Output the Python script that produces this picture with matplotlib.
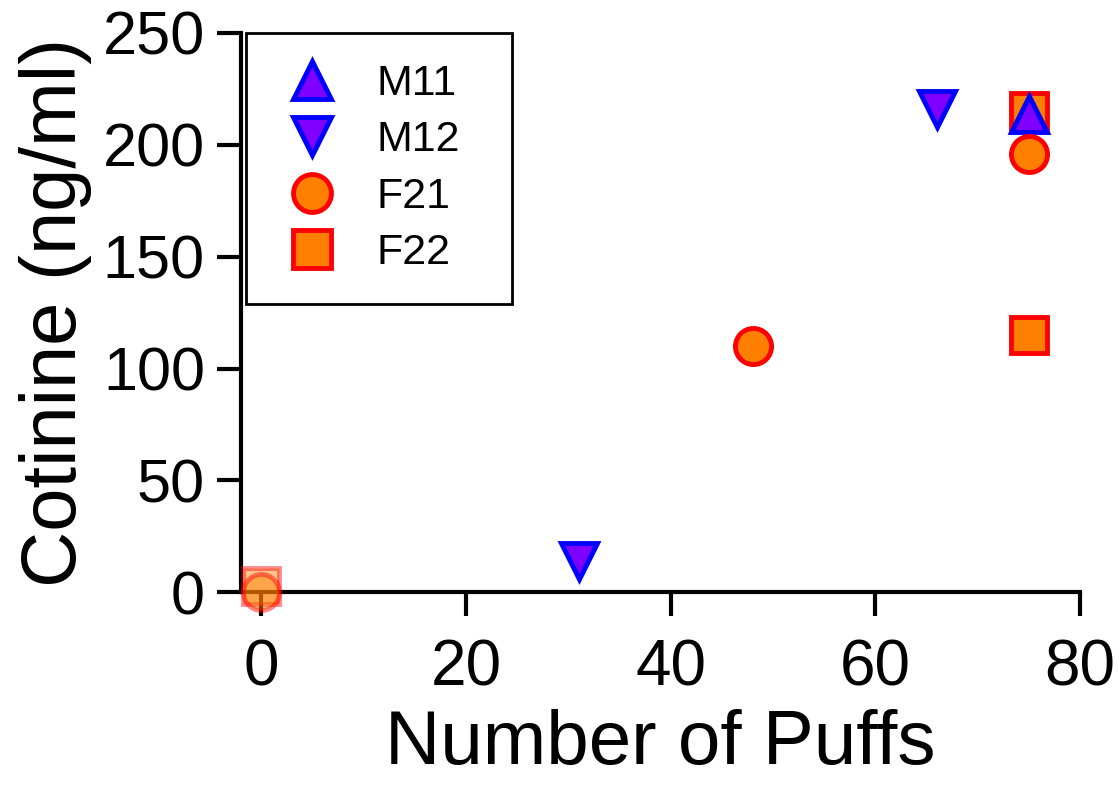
import matplotlib
matplotlib.use("Agg")
import matplotlib.pyplot as plt

plt.rcParams['font.family'] = ['Liberation Sans', 'DejaVu Sans']

# Datos
m11_x = [75]
m11_y = [214]
m12_x = [31, 66]
m12_y = [14, 216]
f21_x = [48, 75]
f21_y = [110, 196]
f22_x = [75, 75]
f22_y = [215, 115]
# puntos en cero (dibujados semitransparentes)
f21_cero_x = [0]
f21_cero_y = [0]
f22_cero_x = [0]
f22_cero_y = [3]

azul, morado = '#0000FF', '#8000FF'
rojo, naranja = '#FF0000', '#FF8000'

fig = plt.figure(figsize=(11.19, 7.85), dpi=100)
ax = fig.add_axes([0.2154, 0.2455, 0.7497, 0.7125])

ms = 26
mew = 3.5
ax.plot(f22_x, f22_y, 's', ms=ms, mfc=naranja, mec=rojo, mew=mew, label='F22', clip_on=False, zorder=3)
ax.plot(m11_x, m11_y, '^', ms=ms, mfc=morado, mec=azul, mew=mew, label='M11', clip_on=False, zorder=4)
ax.plot(m12_x, m12_y, 'v', ms=ms, mfc=morado, mec=azul, mew=mew, label='M12', clip_on=False, zorder=4)
ax.plot(f21_x, f21_y, 'o', ms=ms, mfc=naranja, mec=rojo, mew=mew, label='F21', clip_on=False, zorder=4)
ax.plot(f22_cero_x, f22_cero_y, 's', ms=ms, mfc=naranja, mec=rojo, mew=mew, alpha=0.45, clip_on=False, zorder=5)
ax.plot(f21_cero_x, f21_cero_y, 'o', ms=ms, mfc=naranja, mec=rojo, mew=mew, alpha=0.45, clip_on=False, zorder=5)

ax.set_xlim(-2, 80)
ax.set_ylim(0, 250)
ax.set_xticks([0, 20, 40, 60, 80])
ax.set_yticks([0, 50, 100, 150, 200, 250])

for lado in ['top', 'right']:
    ax.spines[lado].set_visible(False)
for lado in ['left', 'bottom']:
    ax.spines[lado].set_linewidth(3)
ax.tick_params(width=3, length=17)
ax.tick_params(axis='y', pad=9, labelsize=44)
ax.tick_params(axis='x', pad=16, labelsize=46)

ax.set_xlabel('Number of Puffs', fontsize=55, labelpad=8)
ax.set_ylabel('Cotinine (ng/ml)', fontsize=56, labelpad=8)

handles, labels = ax.get_legend_handles_labels()
orden = [1, 2, 3, 0]
leg = ax.legend([handles[i] for i in orden], [labels[i] for i in orden],
                loc='upper left', bbox_to_anchor=(0.006, 0.0, 0.317, 1.0),
                mode='expand', borderaxespad=0,
                fontsize=31, fancybox=False, framealpha=1, edgecolor='black',
                markerscale=1.05, handletextpad=0.7, labelspacing=0.38,
                borderpad=0.72, handlelength=1.6)
leg.get_frame().set_linewidth(2)

fig.savefig('out.png', dpi=100)
